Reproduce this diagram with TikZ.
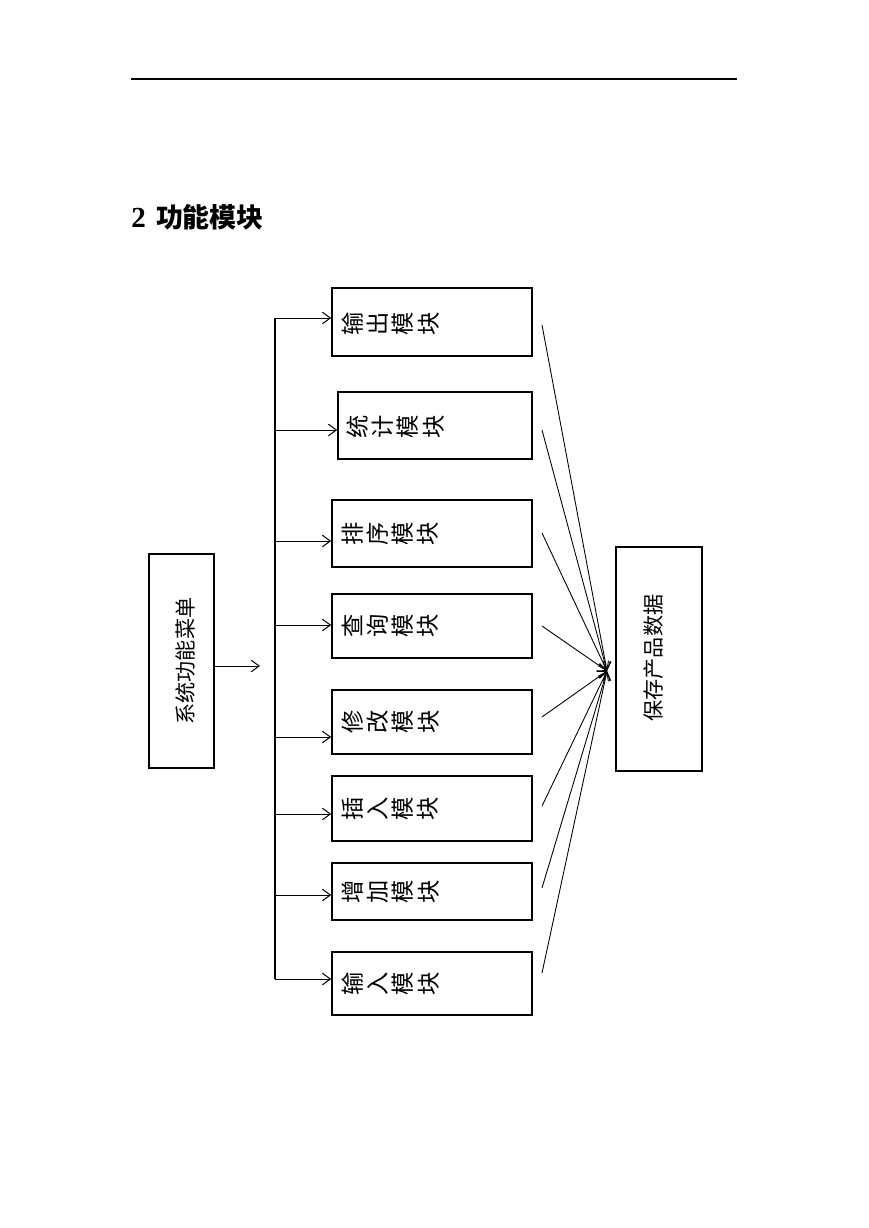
\documentclass[tikz,border=0pt]{standalone}
\usepackage{fontspec}
\newfontfamily\cjk{Noto Sans CJK SC}
\newfontfamily\tms{Liberation Serif}
\usetikzlibrary{arrows.meta}
\begin{document}
\begin{tikzpicture}[
        x=0.2416mm, y=-0.2416mm,
        box/.style={draw, line width=1.1pt, minimum width=200*0.2416mm, inner sep=0pt},
        bigbox/.style={draw, line width=1.6pt, inner sep=0pt},
        label/.style={rotate=90, anchor=north, inner sep=0pt, align=center,
            font=\cjk\fontsize{16}{17.4}\selectfont},
        arrow/.style={-{Straight Barb[length=5.5pt,width=8pt]}, line width=0.7pt},
        bus/.style={line width=1.3pt},
        fan/.style={-{Straight Barb[length=5.5pt,width=8pt]}, line width=0.6pt}
    ]
    \useasboundingbox (0,0) rectangle (869,1228);
    % Header
    \draw[line width=0.8pt] (131,79) -- (737,79);
    \node[anchor=base west, inner sep=0pt] (title) at (131,227)
        {{\tms\bfseries\fontsize{20}{22}\selectfont 2}\hspace{7pt}{\cjk\bfseries\fontsize{18.5}{22}\selectfont 功能模块}};
    % Nodes
    \node[bigbox, minimum width=65*0.2416mm, minimum height=214*0.2416mm] (menu) at (181.5,661) {};
    \node[rotate=90, inner sep=0pt, font=\cjk\fontsize{14.5}{16}\selectfont] (menutext) at (185,661) {系统功能菜单};
    \node[bigbox, minimum width=86*0.2416mm, minimum height=224*0.2416mm] (save) at (659,659) {};
    \node[rotate=90, inner sep=0pt, font=\cjk\fontsize{14.5}{16}\selectfont] (savetext) at (654,658) {保存产品数据};
    \node[box, minimum height=68*0.2416mm] (out) at (432,322) {};
    \node[box, minimum width=194*0.2416mm, minimum height=67*0.2416mm] (stat) at (435,425.5) {};
    \node[box, minimum height=67*0.2416mm] (sort) at (432,533.5) {};
    \node[box, minimum height=64*0.2416mm] (query) at (432,626) {};
    \node[box, minimum height=64*0.2416mm] (mod) at (432,722) {};
    \node[box, minimum height=65*0.2416mm] (ins) at (432,808.5) {};
    \node[box, minimum height=57*0.2416mm] (add) at (432,891.5) {};
    \node[box, minimum height=63*0.2416mm] (in) at (432,983.5) {};
    \node[label] (outtext) at ([xshift=10*0.2416mm, yshift=-2*0.2416mm]out.west) {输\\出\\模\\块};
    \node[label] (stattext) at ([xshift=9*0.2416mm, yshift=-1*0.2416mm]stat.west) {统\\计\\模\\块};
    \node[label] (sorttext) at ([xshift=10*0.2416mm]sort.west) {排\\序\\模\\块};
    \node[label] (querytext) at ([xshift=10*0.2416mm]query.west) {查\\询\\模\\块};
    \node[label] (modtext) at ([xshift=10*0.2416mm]mod.west) {修\\改\\模\\块};
    \node[label] (instext) at ([xshift=10*0.2416mm]ins.west) {插\\入\\模\\块};
    \node[label] (addtext) at ([xshift=10*0.2416mm]add.west) {增\\加\\模\\块};
    \node[label] (intext) at ([xshift=10*0.2416mm]in.west) {输\\入\\模\\块};
    % Edges
    \coordinate (menuout) at (260,666);
    \draw[arrow] (menu.east |- menuout) -- (menuout);
    \foreach \name/\yy in {out/318, stat/430, sort/541, query/625, mod/737, ins/814, add/895, in/979}{
        \coordinate (b\name) at (275,\yy);
        \draw[arrow] (b\name) -- (b\name -| \name.west);
    }
    \draw[bus] (bout) -- (bin);
    \coordinate (hub) at (607,671);
    \foreach \name/\yy in {out/325, stat/430, sort/533, query/626, mod/717, ins/806, add/888, in/973}{
        \coordinate (f\name) at (542,\yy);
        \draw[fan] (f\name) -- (hub);
    }
\end{tikzpicture}
\end{document}
